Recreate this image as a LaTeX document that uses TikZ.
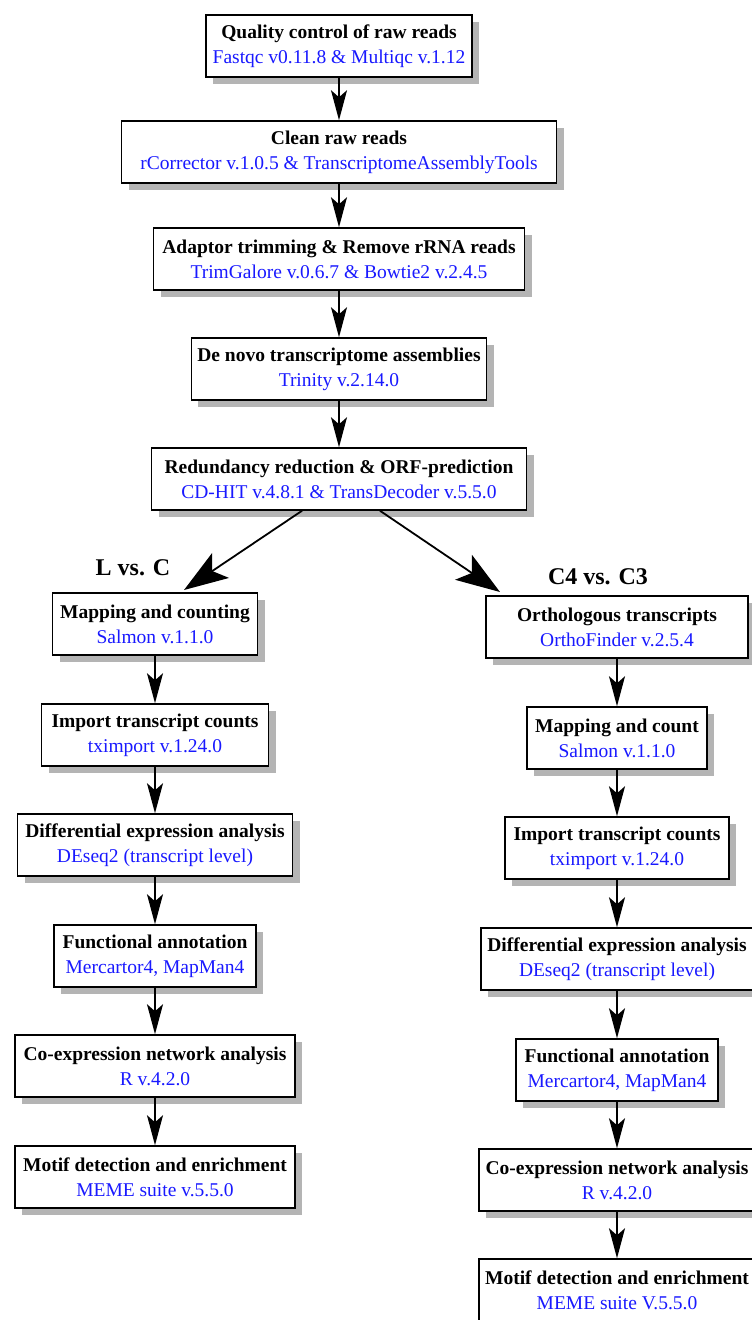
\documentclass[tikz,border=0pt]{standalone}
\usepackage{fontspec}
\setmainfont{Liberation Serif}
\usetikzlibrary{shadows,arrows.meta}
\definecolor{shadowgray}{RGB}{180,180,180}
\definecolor{toolblue}{RGB}{25,25,255}
\newcommand\steptext[2]{{\bfseries #1}\\\textcolor{toolblue}{#2}}
\begin{document}
\begin{tikzpicture}[x=1pt,y=-1pt,
  box/.style={draw, line width=1.5pt, fill=white, align=center, inner xsep=6pt, inner ysep=4pt,
    minimum height=62pt, font=\fontsize{19.5}{25}\selectfont,
    drop shadow={shadow xshift=7pt, shadow yshift=-7pt, fill=shadowgray, opacity=1}},
  conn/.style={line width=1.8pt, -{Stealth[length=30pt,width=16pt,inset=7pt]}},
  bigconn/.style={line width=1.8pt, -{Stealth[length=44pt,width=30pt,inset=10pt]}},
  grp/.style={font=\fontsize{24}{28}\selectfont\bfseries}]
\fill[white] (0,0) rectangle (752,1320);
\useasboundingbox (0,0) rectangle (752,1320);

% top column
\node[box, minimum width=266pt] (qc)  at (339,46)  {\steptext{Quality control of raw reads}{Fastqc v0.11.8 \& Multiqc v.1.12}};
\node[box, minimum width=435pt] (cl)  at (339,152) {\steptext{Clean raw reads}{rCorrector v.1.0.5 \& TranscriptomeAssemblyTools}};
\node[box, minimum width=371pt] (ad)  at (339,259) {\steptext{Adaptor trimming \& Remove rRNA reads}{TrimGalore v.0.6.7 \& Bowtie2 v.2.4.5}};
\node[box, minimum width=290pt] (dn)  at (339,369) {\steptext{De novo transcriptome assemblies}{Trinity v.2.14.0}};
\node[box, minimum width=375pt] (rd)  at (339,479) {\steptext{Redundancy reduction \& ORF-prediction}{CD-HIT v.4.8.1 \& TransDecoder v.5.5.0}};

\draw[conn] (qc) -- (cl);
\draw[conn] (cl) -- (ad);
\draw[conn] (ad) -- (dn);
\draw[conn] (dn) -- (rd);

% group labels
\node[grp] (lc) at (133,568) {L vs. C};
\node[grp] (cc) at (598,577) {C4 vs. C3};

\coordinate (tipL) at (184,590);
\coordinate (tipR) at (500,592);
\draw[bigconn] ([xshift=-37pt]rd.south) -- (tipL);
\draw[bigconn] ([xshift=41pt]rd.south) -- (tipR);

% left column
\node[box, minimum width=205pt] (l1) at (155,624)  {\steptext{Mapping and counting}{Salmon v.1.1.0}};
\node[box, minimum width=227pt] (l2) at (155,735)  {\steptext{Import transcript counts}{tximport v.1.24.0}};
\node[box, minimum width=275pt] (l3) at (155,845)  {\steptext{Differential expression analysis}{DEseq2 (transcript level)}};
\node[box, minimum width=202pt] (l4) at (155,956)  {\steptext{Functional annotation}{Mercartor4, MapMan4}};
\node[box, minimum width=280pt] (l5) at (155,1066) {\steptext{Co-expression network analysis}{R v.4.2.0}};
\node[box, minimum width=280pt] (l6) at (155,1177) {\steptext{Motif detection and enrichment}{MEME suite v.5.5.0}};

\draw[conn] (l1) -- (l2);
\draw[conn] (l2) -- (l3);
\draw[conn] (l3) -- (l4);
\draw[conn] (l4) -- (l5);
\draw[conn] (l5) -- (l6);

% right column
\node[box, minimum width=262pt] (r1) at (617,627)  {\steptext{Orthologous transcripts}{OrthoFinder v.2.5.4}};
\node[box, minimum width=180pt] (r2) at (617,738)  {\steptext{Mapping and count}{Salmon v.1.1.0}};
\node[box, minimum width=224pt] (r3) at (617,848)  {\steptext{Import transcript counts}{tximport v.1.24.0}};
\node[box, minimum width=272pt] (r4) at (617,959)  {\steptext{Differential expression analysis}{DEseq2 (transcript level)}};
\node[box, minimum width=202pt] (r5) at (617,1070) {\steptext{Functional annotation}{Mercartor4, MapMan4}};
\node[box, minimum width=276pt] (r6) at (617,1180) {\steptext{Co-expression network analysis}{R v.4.2.0}};
\node[box, minimum width=276pt] (r7) at (617,1290) {\steptext{Motif detection and enrichment}{MEME suite V.5.5.0}};

\draw[conn] (r1) -- (r2);
\draw[conn] (r2) -- (r3);
\draw[conn] (r3) -- (r4);
\draw[conn] (r4) -- (r5);
\draw[conn] (r5) -- (r6);
\draw[conn] (r6) -- (r7);
\end{tikzpicture}
\end{document}
